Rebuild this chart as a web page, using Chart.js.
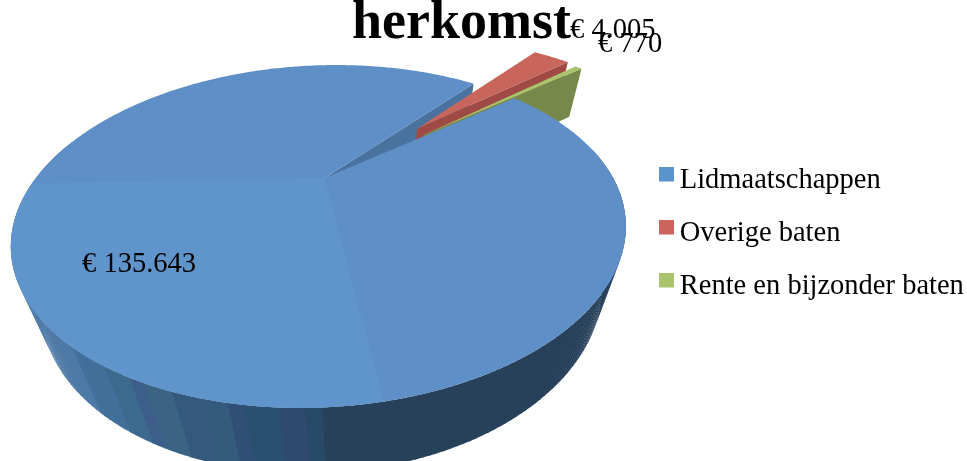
<!DOCTYPE html>
<html><head><meta charset="utf-8">
<style>html,body{margin:0;padding:0;background:#fff}canvas{display:block}</style>
<script src="https://cdn.jsdelivr.net/npm/chart.js@4"></script>
</head><body><canvas id="c" width="967" height="461"></canvas>
<script>
const categories = ["Lidmaatschappen", "Overige baten", "Rente en bijzonder baten"];
const values = [135643, 4005, 770];
const sliceColors = ["#5f8fc7", "#c9665c", "#a9c46c"];
const wallColors = ["#4a729f", "#a04a45", "#76894a"];
const explode = [0, 0.5, 0.48];
const wallDepth = [1, 0.87, 0.87];

const SERIF = '"Liberation Serif", serif';
// perspective model of the pie plane
const P = {cx:324.5, cy:178, a:288.6, b:151.5, k:0.341, s:-0.105, vx:350, vy:980, t:0.085};
function project(u, v, depth){
  const w = 1 - P.k*v, X = P.a*u/w, Y = P.b*v/w, t = P.t*(depth||0);
  let x = P.cx + X + P.s*Y, y = P.cy + Y;
  if (t){ x = (w*x + t*P.vx)/(w+t); y = (w*y + t*P.vy)/(w+t); }
  return [x,y];
}
function poly(ctx, pts, fill){
  ctx.beginPath(); pts.forEach((p,i)=> i?ctx.lineTo(p[0],p[1]):ctx.moveTo(p[0],p[1])); ctx.closePath();
  ctx.fillStyle = fill; ctx.fill();
}
function edgePts(arc, i, a0, a1, depth){
  const mid = (arc.startAngle+arc.endAngle)/2, e = explode[i];
  const ox = e*Math.cos(mid), oy = e*Math.sin(mid), pts = [];
  const n = Math.max(2, Math.ceil(Math.abs(a1-a0)/0.01));
  for (let j=0;j<=n;j++){ const a=a0+(a1-a0)*j/n; pts.push(project(ox+Math.cos(a), oy+Math.sin(a), depth)); }
  return pts;
}
function apex(arc, i, depth){
  const mid = (arc.startAngle+arc.endAngle)/2, e = explode[i];
  return project(e*Math.cos(mid), e*Math.sin(mid), depth);
}
function radial(arc, i, a){ const d = wallDepth[i]; return [apex(arc,i,0), edgePts(arc,i,a,a,0)[0], edgePts(arc,i,a,a,d)[0], apex(arc,i,d)]; }
const shade = [[0,"#4e7aa8"],[40,"#4c78a5"],[75,"#426f9a"],[105,"#3b6a8e"],[130,"#3d5e8a"],[150,"#3a6384"],[175,"#34597d"],[205,"#345a7c"],[235,"#2f4f76"],[250,"#2a5070"],[280,"#2f4a6e"],[310,"#274a68"],[330,"#28415b"],[967,"#28415b"]];
function shadeAt(x){ let c = shade[0][1]; for (const s of shade) if (x>=s[0]) c=s[1]; return c; }

// legend swatch: a canvas with the square placed off-centre, so it sits close to its label
function swatch(color){
  const c = document.createElement("canvas"); c.width = 18; c.height = 28;
  const g = c.getContext("2d"); g.fillStyle = color; g.fillRect(3,0,15,15);
  return c;
}
const legendSwatch = ["#5b93cb","#cb645c","#a9c46c"];

const pie3d = {
  id:"pie3d",
  beforeDatasetsDraw(chart){
    const ctx = chart.ctx, arcs = chart.getDatasetMeta(0).data, blue = arcs[0];
    ctx.save();
    const step = 0.02;
    for (let a = -0.2; a < Math.PI + 0.25; a += step){
      const t0 = edgePts(blue,0,a,a,0)[0], t1 = edgePts(blue,0,a+step+0.004,a+step+0.004,0)[0];
      const b1 = edgePts(blue,0,a+step+0.004,a+step+0.004,1)[0], b0 = edgePts(blue,0,a,a,1)[0];
      poly(ctx,[t0,t1,b1,b0],shadeAt(t0[0]));
    }
    poly(ctx, radial(blue,0,blue.endAngle), wallColors[0]);
    poly(ctx, radial(arcs[1],1,arcs[1].endAngle), wallColors[1]);
    poly(ctx, radial(arcs[2],2,arcs[2].endAngle), wallColors[2]);
    arcs.forEach((arc,i)=>{
      poly(ctx,[apex(arc,i,0),...edgePts(arc,i,arc.startAngle,arc.endAngle,0)], sliceColors[i]);
    });
    const a0 = 79*Math.PI/180, a1 = 178*Math.PI/180;
    poly(ctx,[apex(blue,0,0),...edgePts(blue,0,a0,a1,0)],"#5f95ca");
    ctx.restore();
    return false;
  },
  afterDraw(chart){
    const ctx = chart.ctx;
    ctx.save();
    ctx.fillStyle = "#000";
    ctx.font = "28.5px " + SERIF;
    ctx.textBaseline = "alphabetic";
    const fmt = v => "€ " + v.toLocaleString("nl-NL");
    ctx.fillText(fmt(values[0]), 82, 272);
    ctx.fillText(fmt(values[1]), 570, 38);
    ctx.fillText(fmt(values[2]), 598, 52);
    ctx.restore();
  }
};

new Chart(document.getElementById("c"),{
  type:"pie",
  data:{labels:categories,datasets:[{data:values,backgroundColor:sliceColors,borderWidth:0}]},
  plugins:[pie3d],
  options:{
    responsive:false,animation:false,rotation:50,
    layout:{padding:{left:352,right:0,top:0,bottom:-6}},
    plugins:{
      title:{display:true,text:"herkomst",align:"start",color:"#000",padding:{top:1,bottom:4},
        font:{family:SERIF,size:54,weight:"bold",lineHeight:0.85}},
      legend:{position:"right",align:"center",maxWidth:327,
        labels:{color:"#000",boxWidth:1,boxHeight:16,padding:24.5,usePointStyle:true,
          font:{family:SERIF,size:28.5},
          generateLabels(chart){
            return Chart.overrides.pie.plugins.legend.labels.generateLabels(chart)
              .map((item,i)=>({...item,pointStyle:swatch(legendSwatch[i])}));
          }}},
      tooltip:{enabled:false}
    }
  }
});
</script></body></html>
